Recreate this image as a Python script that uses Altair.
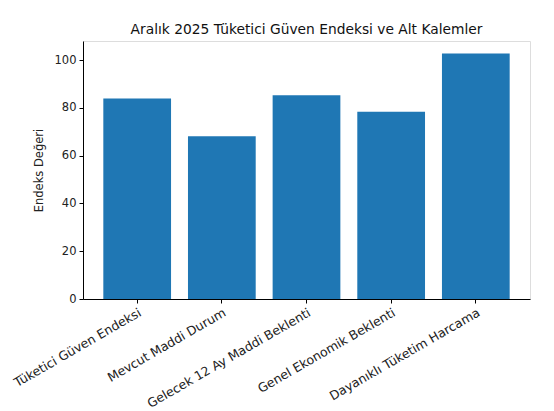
import altair as alt
import pandas as pd

categories = [
    "Tüketici Güven Endeksi",
    "Mevcut Maddi Durum",
    "Gelecek 12 Ay Maddi Beklenti",
    "Genel Ekonomik Beklenti",
    "Dayanıklı Tüketim Harcama",
]
values = [83.9, 68.1, 85.3, 78.4, 102.8]
y_ticks = [0, 20, 40, 60, 80, 100]

df = pd.DataFrame({"kategori": categories, "deger": values})

FONT = "DejaVu Sans"

chart = (
    alt.Chart(df)
    .mark_bar(color="#1f77b4")
    .encode(
        x=alt.X(
            "kategori:N",
            sort=categories,
            scale=alt.Scale(paddingInner=0.2, paddingOuter=0.24),
            axis=alt.Axis(
                title=None,
                labelAngle=-30,
                labelAlign="right",
                labelBaseline="top",
                labelFont=FONT,
                labelFontSize=12.5,
                labelColor="#222222",
                labelPadding=3,
                tickSize=4,
                tickColor="black",
                domainColor="black",
                labelLimit=300,
                labelOverlap=False,
            ),
        ),
        y=alt.Y(
            "deger:Q",
            scale=alt.Scale(domain=[0, 108], nice=False, zero=True),
            axis=alt.Axis(
                title="Endeks Değeri",
                values=y_ticks,
                grid=False,
                labelFont=FONT,
                labelFontSize=11.5,
                labelColor="#222222",
                labelPadding=3,
                tickSize=4,
                tickColor="black",
                domainColor="black",
                titleFont=FONT,
                titleFontSize=11.5,
                titleFontWeight="normal",
                titleColor="#222222",
                titlePadding=10,
            ),
        ),
    )
    .properties(
        width=447,
        height=258,
        title=alt.TitleParams(
            "Aralık 2025 Tüketici Güven Endeksi ve Alt Kalemler",
            font=FONT,
            fontSize=13.8,
            fontWeight="normal",
            color="#111111",
            offset=4,
        ),
        autosize=alt.AutoSizeParams(type="none"),
        padding={"left": 75, "top": 33, "right": 16, "bottom": 112},
    )
    .configure_view(stroke="black", strokeWidth=1)
    .configure(background="white")
)

chart.save("out.html", embed_options={"renderer": "svg", "actions": False})
